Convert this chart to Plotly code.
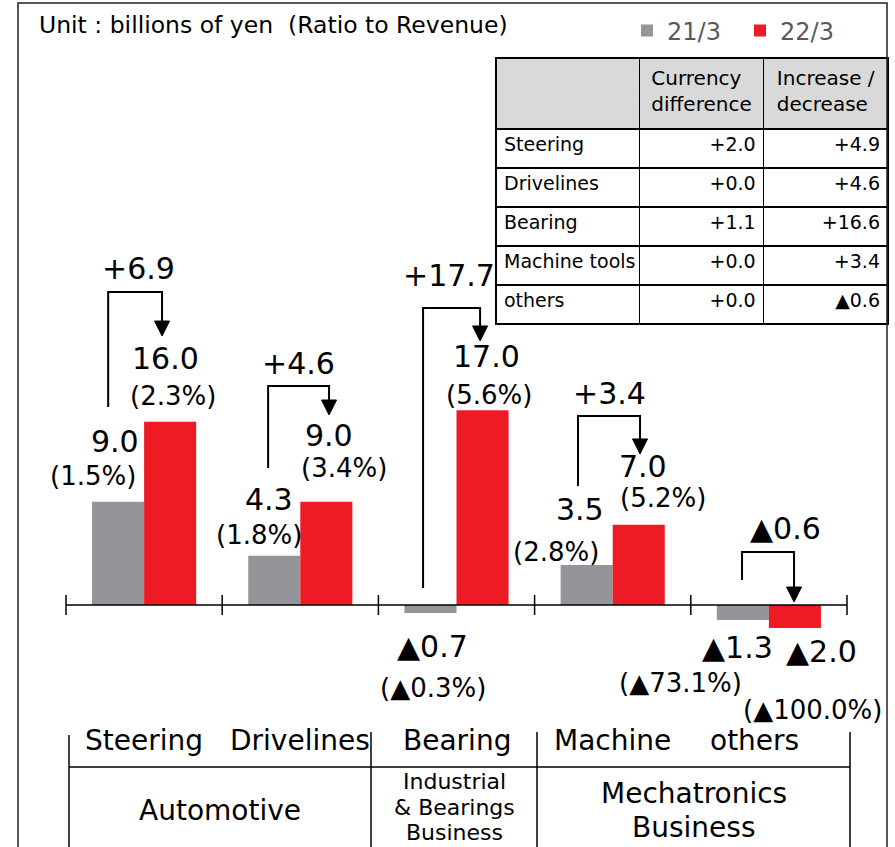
import plotly.graph_objects as go

# ---------------- data ----------------
categories = ["Steering", "Drivelines", "Bearing", "Machine", "others"]
series_names = ["21/3", "22/3"]
fy21 = [9.0, 4.3, -0.7, 3.5, -1.3]
fy22 = [16.0, 9.0, 17.0, 7.0, -2.0]
ratio21 = [1.5, 1.8, -0.3, 2.8, -73.1]
ratio22 = [2.3, 3.4, 5.6, 5.2, -100.0]
change = [6.9, 4.6, 17.7, 3.4, -0.6]

segments = ["Automotive", "Industrial\n& Bearings\nBusiness", "Mechatronics\nBusiness"]

table_header = ["", "Currency<br>difference", "Increase /<br>decrease"]
table_rows = ["Steering", "Drivelines", "Bearing", "Machine\u00a0tools", "others"]
currency_diff = [2.0, 0.0, 1.1, 0.0, 0.0]
increase_decrease = [4.9, 4.6, 16.6, 3.4, -0.6]

title_text = "Unit : billions of yen \u00a0(Ratio to Revenue)"

# ---------------- layout constants ----------------
W, H = 895, 847
FONT = "DejaVu Sans"
GRAY = "#939598"
RED = "#ED1C24"
CAT_L, CAT_R = 66.0, 847.0          # pixel span of the 5 categories
ZERO_PY = 605.0                      # pixel row of value 0
PX_PER_UNIT = 11.46
CAT_W = (CAT_R - CAT_L) / len(categories)

x_range = [-0.5 - CAT_L / CAT_W, -0.5 + (W - CAT_L) / CAT_W]
y_range = [-(H - ZERO_PY) / PX_PER_UNIT, ZERO_PY / PX_PER_UNIT]


def fmt_val(v):
    return f"{v:.1f}" if v >= 0 else f"\u25b2{abs(v):.1f}"


def fmt_signed(v):
    return f"+{v:.1f}" if v >= 0 else f"\u25b2{abs(v):.1f}"


def fmt_pct(p):
    return f"({fmt_val(p)}%)"


def px(x):
    return x / W


def py(y):
    return 1 - y / H


def label(**kw):
    d = dict(showarrow=False, xanchor="center", yanchor="middle")
    d.update(kw)
    return d


fig = go.Figure()
fig.add_trace(go.Bar(x=categories, y=fy21, name=series_names[0],
                     marker=dict(color=GRAY, line=dict(width=0))))
fig.add_trace(go.Bar(x=categories, y=fy22, name=series_names[1],
                     marker=dict(color=RED, line=dict(width=0))))

# table of currency effects
fig.add_trace(go.Table(
    domain=dict(x=[px(496), px(888)], y=[py(340), py(58)]),
    columnwidth=[143, 124, 124],
    header=dict(values=table_header, fill_color="#d9d9d9",
                line=dict(color="black", width=1.5), align="center",
                font=dict(family=FONT, size=20, color="black"), height=71),
    cells=dict(values=[table_rows,
                       [fmt_signed(v) for v in currency_diff],
                       [fmt_signed(v) for v in increase_decrease]],
               fill_color="white", line=dict(color="black", width=1.5),
               align=["left", "right", "right"],
               font=dict(family=FONT, size=19, color="black"), height=39),
))

shapes = []
annotations = []

# axis line with crossing ticks at category boundaries
shapes.append(dict(type="line", xref="x", yref="y", x0=-0.5, x1=len(categories) - 0.5,
                   y0=0, y1=0, line=dict(color="black", width=1.5)))
tick_half = 10 / PX_PER_UNIT
for k in range(len(categories) + 1):
    shapes.append(dict(type="line", xref="x", yref="y", x0=k - 0.5, x1=k - 0.5,
                       y0=-tick_half, y1=tick_half, line=dict(color="black", width=1.5)))

# value / ratio label offsets (px) relative to bar end
VAL_OFF = [
    [(-3, 60), (-5, 56), (2, -33), (-7, 55), (-5, -28)],   # 21/3 values
    [(-5, 63), (3, 66), (4, 54), (4, 58), (27, -24)],      # 22/3 values
]
PCT_OFF = [
    [(-25, 26), (-15, 21), (3, -75), (-31, 13), (-62, -63)],
    [(3, 26), (18, 34), (6, 15), (24, 27), (18, -82)],
]
for s, (vals, pcts) in enumerate([(fy21, ratio21), (fy22, ratio22)]):
    offset = -1 / 6 if s == 0 else 1 / 6
    for i, (v, p) in enumerate(zip(vals, pcts)):
        dx, dy = VAL_OFF[s][i]
        annotations.append(label(x=i + offset, y=v, xref="x", yref="y", text=fmt_val(v),
                                 xshift=dx, yshift=dy,
                                 font=dict(family=FONT, size=30, color="black")))
        dx, dy = PCT_OFF[s][i]
        annotations.append(label(x=i + offset, y=v, xref="x", yref="y", text=fmt_pct(p),
                                 xshift=dx, yshift=dy,
                                 font=dict(family=FONT, size=26, color="black")))

# change brackets (category-relative geometry)
BRACKETS = [
    dict(left=-0.230, right=0.115, bottom=17.28, top=27.31, tip=23.47, lab=(-6, 24)),
    dict(left=-0.206, right=0.184, bottom=11.95, top=19.11, tip=16.58, lab=(-2, 23)),
    dict(left=-0.214, right=0.151, bottom=1.48, top=25.92, tip=23.04, lab=(-8, 32)),
    dict(left=-0.222, right=0.175, bottom=10.38, top=16.49, tip=13.18, lab=(-3, 23)),
    dict(left=-0.172, right=0.161, bottom=2.18, top=4.62, tip=0.26, lab=(17, 24)),
]
head_h = 15 / PX_PER_UNIT
head_w = 7.5 / CAT_W
for i, (b, d) in enumerate(zip(BRACKETS, change)):
    xl, xr = i + b["left"], i + b["right"]
    shapes.append(dict(type="path", xref="x", yref="y",
                       path=f"M{xl},{b['bottom']} L{xl},{b['top']} L{xr},{b['top']} L{xr},{b['tip'] + head_h}",
                       line=dict(color="black", width=2)))
    shapes.append(dict(type="path", xref="x", yref="y",
                       path=f"M{xr - head_w},{b['tip'] + head_h} L{xr + head_w},{b['tip'] + head_h} L{xr},{b['tip']} Z",
                       fillcolor="black", line=dict(color="black", width=1)))
    annotations.append(label(x=i, y=b["top"], xref="x", yref="y", text=fmt_signed(d),
                             xshift=b["lab"][0], yshift=b["lab"][1],
                             font=dict(family=FONT, size=30, color="black")))

# category labels row
CAT_LABEL_SHIFT = [0, 0, 0, 0, -14]
for i, c in enumerate(categories):
    annotations.append(label(x=i, y=py(740), xref="x", yref="paper", text=c,
                             xshift=CAT_LABEL_SHIFT[i],
                             font=dict(family=FONT, size=28, color="black")))

# segment table at bottom
SEG_BOUNDS = [69, 371, 537, 850]
for k, xb in enumerate(SEG_BOUNDS):
    shapes.append(dict(type="line", xref="paper", yref="paper", x0=px(xb), x1=px(xb),
                       y0=py(735 if k == 0 else 732), y1=-0.05,
                       line=dict(color="black", width=1.5)))
shapes.append(dict(type="line", xref="paper", yref="paper", x0=px(SEG_BOUNDS[0]),
                   x1=px(SEG_BOUNDS[-1]), y0=py(767), y1=py(767),
                   line=dict(color="black", width=1.5)))
SEG_STYLE = [dict(size=28, ys=[810]), dict(size=22, ys=[781, 807, 832]),
             dict(size=28, ys=[793, 827])]
for k, seg in enumerate(segments):
    cx = (SEG_BOUNDS[k] + SEG_BOUNDS[k + 1]) / 2
    for line, yy in zip(seg.split("\n"), SEG_STYLE[k]["ys"]):
        annotations.append(label(x=px(cx), y=py(yy), xref="paper", yref="paper", text=line,
                                 font=dict(family=FONT, size=SEG_STYLE[k]["size"], color="black")))

# outer frame
shapes.append(dict(type="rect", xref="paper", yref="paper", x0=px(18), x1=px(887),
                   y0=-0.05, y1=py(3), line=dict(color="#222222", width=1.5)))

# unit title
annotations.append(label(x=px(37), y=py(25), xref="paper", yref="paper", text=title_text,
                         xanchor="left",
                         font=dict(family=FONT, size=23.5, color="black")))

fig.update_layout(
    width=W, height=H, autosize=False,
    margin=dict(l=0, r=0, t=0, b=0),
    paper_bgcolor="white", plot_bgcolor="white",
    barmode="group", bargap=1 / 3, bargroupgap=0,
    xaxis=dict(type="category", range=x_range, domain=[0, 1], visible=False, fixedrange=True),
    yaxis=dict(range=y_range, domain=[0, 1], visible=False, zeroline=False, fixedrange=True),
    showlegend=True,
    legend=dict(orientation="h", x=px(627), y=py(31), xanchor="left", yanchor="middle",
                font=dict(family=FONT, size=24, color="#595959"),
                bgcolor="rgba(0,0,0,0)", entrywidth=68, traceorder="normal"),
    shapes=shapes,
    annotations=annotations,
)

fig.write_html("out.html", config={"displayModeBar": False},
               post_script="document.body.style.margin='0';document.body.style.overflow='hidden';")
